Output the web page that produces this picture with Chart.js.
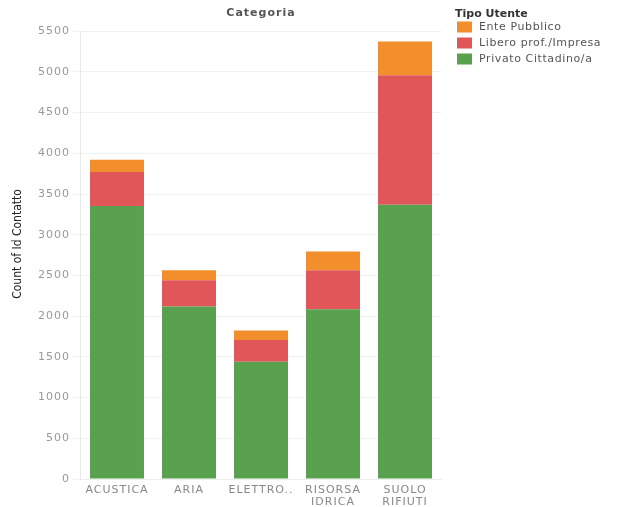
<!DOCTYPE html>
<html>
<head>
<meta charset="utf-8">
<script src="https://cdn.jsdelivr.net/npm/chart.js@4.4.0/dist/chart.umd.min.js"></script>
<style>
  html, body { margin: 0; padding: 0; background: #fff; }
  #wrap { width: 619px; height: 507px; }
</style>
</head>
<body>
<div id="wrap"><canvas id="categoriaChart"></canvas></div>
<script>
const categories = ["ACUSTICA", "ARIA", "ELETTRO..", ["RISORSA", "IDRICA"], ["SUOLO", "RIFIUTI"]];
const privato = [3352, 2118, 1441, 2085, 3368];
const libero = [418, 324, 266, 480, 1592];
const ente = [151, 123, 116, 230, 413];
const yTicks = [0, 500, 1000, 1500, 2000, 2500, 3000, 3500, 4000, 4500, 5000, 5500];

const FONT = "'DejaVu Sans', sans-serif";

const spacingPlugin = {
  id: "spacing",
  beforeUpdate: chart => { chart.ctx.letterSpacing = "1px"; },
  beforeDraw: chart => { chart.ctx.letterSpacing = "1px"; }
};

// legend + y axis title drawn by hand, Tableau style
const sideTextPlugin = {
  id: "sideText",
  afterDraw: chart => {
    const ctx = chart.ctx;
    ctx.save();
    ctx.letterSpacing = "0px";
    ctx.textBaseline = "middle";
    ctx.textAlign = "left";
    ctx.fillStyle = "#333";
    ctx.font = "bold 11px " + FONT;
    ctx.fillText("Tipo Utente", 455, 14);

    ctx.font = "11px " + FONT;
    ctx.letterSpacing = "0.6px";
    const ds = chart.data.datasets.slice().reverse();
    ds.forEach((d, i) => {
      const y = 27 + i * 16;
      ctx.fillStyle = d.backgroundColor;
      ctx.fillRect(457, y - 5.5, 15, 11);
      ctx.fillStyle = "#555";
      ctx.fillText(d.label, 479, y);
    });

    ctx.letterSpacing = "0px";
    ctx.translate(18, 244);
    ctx.rotate(-Math.PI / 2);
    ctx.textAlign = "center";
    ctx.fillStyle = "#222";
    ctx.font = "12px 'Liberation Sans Narrow', 'DejaVu Sans Condensed', sans-serif";
    ctx.fillText("Count of Id Contatto", 0, 0);
    ctx.restore();
  }
};

new Chart(document.getElementById("categoriaChart").getContext("2d"), {
  type: "bar",
  data: {
    labels: categories,
    datasets: [
      { label: "Privato Cittadino/a", data: privato, backgroundColor: "#59a14f" },
      { label: "Libero prof./Impresa", data: libero, backgroundColor: "#e15759" },
      { label: "Ente Pubblico", data: ente, backgroundColor: "#f28e2b" }
    ]
  },
  options: {
    responsive: true,
    maintainAspectRatio: false,
    animation: false,
    layout: { padding: { left: 35, right: 178, top: 0, bottom: 0 } },
    datasets: { bar: { categoryPercentage: 1, barPercentage: 0.75 } },
    plugins: {
      legend: { display: false },
      tooltip: { enabled: false },
      title: {
        display: true,
        text: "Categoria",
        fullSize: false,
        color: "#555",
        font: { family: FONT, size: 11, weight: "bold" },
        padding: { top: 7, bottom: 11 }
      }
    },
    scales: {
      x: {
        stacked: true,
        grid: { display: false, drawTicks: false },
        border: { color: "#eee" },
        ticks: {
          color: "#888",
          padding: 5,
          maxRotation: 0,
          autoSkip: false,
          font: { family: FONT, size: 11, lineHeight: 1.1 }
        },
        afterFit: axis => { axis.height = 28; }
      },
      y: {
        stacked: true,
        min: 0,
        max: 5500,
        afterBuildTicks: axis => { axis.ticks = yTicks.map(v => ({ value: v })); },
        grid: { color: "#f1f1f1", tickLength: 8, tickColor: "#f1f1f1" },
        border: { color: "#e8e8e8" },
        ticks: {
          color: "#999",
          padding: 3,
          font: { family: FONT, size: 11 },
          callback: v => String(v)
        }
      }
    }
  },
  plugins: [spacingPlugin, sideTextPlugin]
});
</script>
</body>
</html>
